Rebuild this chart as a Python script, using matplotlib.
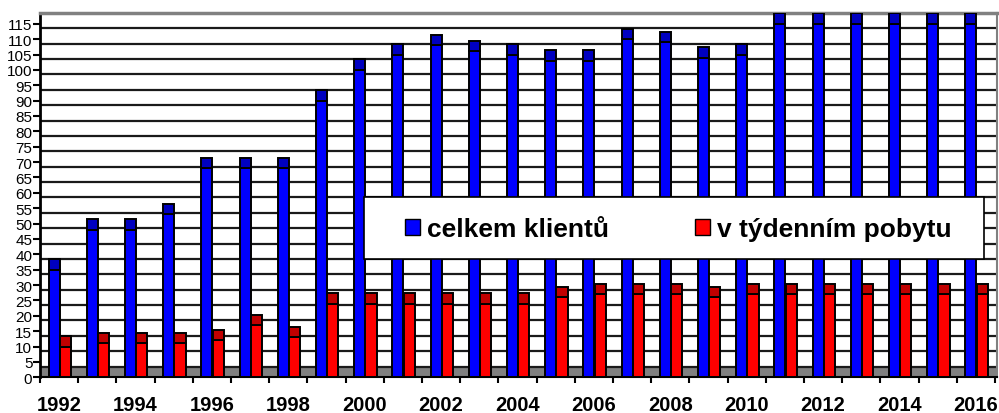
import numpy as np
import matplotlib
matplotlib.use("Agg")
import matplotlib.pyplot as plt
from matplotlib.patches import Rectangle, Patch

plt.rcParams['font.family'] = ['Liberation Sans', 'DejaVu Sans']

years = list(range(1992, 2017))
celkem = [35, 48, 48, 53, 68, 68, 68, 90, 100, 105, 108, 106, 105, 103, 103,
          110, 109, 104, 105, 115, 115, 115, 115, 115, 115]
tydenni = [10, 11, 11, 11, 12, 17, 13, 24, 24, 24, 24, 24, 24, 26, 27,
           27, 27, 26, 27, 27, 27, 27, 27, 27, 27]
series_names = ['celkem klientů', 'v týdenním pobytu']
y_ticks = list(range(0, 120, 5))

W, H = 999, 414
fig = plt.figure(figsize=(W / 100, H / 100), dpi=100)
x0, x1, ybot, ytop = 40, 997, 378.3, 14
ax = fig.add_axes([x0 / W, (H - ybot) / H, (x1 - x0) / W, (ybot - ytop) / H])

depth = 3.5
ymax = 115 + depth
ax.set_ylim(0, ymax)
ax.set_xlim(-0.5, -0.5 + (x1 - x0) / 38.2)

# floor and back-wall gridlines (3D look)
ax.axhspan(0, depth, color='#808080', zorder=1, lw=0)
for v in y_ticks[:-1]:
    ax.axhline(v + depth, color='#1a1a1a', lw=1.6, zorder=1.5)

x = np.arange(len(years))
bw = 0.29
cap = 3.4
blue_c = x - 0.13
red_c = x + 0.165
ax.bar(blue_c, celkem, width=bw, color='#0000FF', edgecolor='black', lw=1.4, zorder=3)
ax.bar(blue_c, [cap] * len(x), bottom=celkem, width=bw, color='#0000C0',
       edgecolor='black', lw=1.4, zorder=3)
ax.bar(red_c, tydenni, width=bw, color='#FF0000', edgecolor='black', lw=1.4, zorder=3)
ax.bar(red_c, [cap] * len(x), bottom=tydenni, width=bw, color='#C00000',
       edgecolor='black', lw=1.4, zorder=3)

# spines
ax.spines['left'].set_color('black')
ax.spines['left'].set_linewidth(2)
ax.spines['bottom'].set_color('black')
ax.spines['bottom'].set_linewidth(1.5)
ax.spines['top'].set_color('#808080')
ax.spines['top'].set_linewidth(2.5)
ax.spines['right'].set_color('#808080')
ax.spines['right'].set_linewidth(1.5)

ax.set_yticks(y_ticks)
ax.set_yticklabels([str(v) for v in y_ticks], fontsize=11)
ax.tick_params(axis='y', length=5, width=1.5, pad=0.5, color='black')

ax.set_xticks(np.arange(-0.5, len(years), 1))
ax.set_xticklabels([])
ax.tick_params(axis='x', which='major', length=4, width=1.5, direction='out')
even = [i for i, yv in enumerate(years) if yv % 2 == 0]
ax.set_xticks(even, minor=True)
ax.set_xticklabels([str(years[i]) for i in even], minor=True,
                   fontsize=14.5, fontweight='bold')
ax.tick_params(axis='x', which='minor', length=0, pad=13)

# legend box
box = Rectangle((364 / W, 1 - 260 / H), 620 / W, 62.5 / H, transform=fig.transFigure,
                facecolor='white', edgecolor='black', lw=1.2, zorder=5)
fig.add_artist(box)
handles = [Patch(facecolor='#0000FF', edgecolor='black', lw=1),
           Patch(facecolor='#FF0000', edgecolor='black', lw=1)]
leg = fig.legend(handles, series_names, loc='center left',
                 bbox_to_anchor=(405 / W, 1 - 230 / H), ncol=2, frameon=False,
                 prop={'size': 19, 'weight': 'bold'}, borderpad=0, borderaxespad=0,
                 handlelength=0.57, handleheight=0.57, handletextpad=0.27,
                 columnspacing=3.26)
leg.set_zorder(6)

fig.savefig('out.png', dpi=100)
